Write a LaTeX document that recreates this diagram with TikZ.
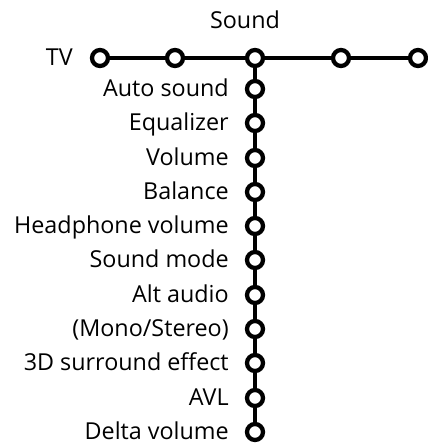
\documentclass[tikz,border=0pt]{standalone}
\usepackage{fontspec}
\setmainfont{Open Sans}
\usetikzlibrary{positioning}

\begin{document}
\begin{tikzpicture}[
    x=0.75pt, y=-0.75pt,
    dot/.style={draw, circle, line width=3.2pt, fill=white, minimum size=12pt, inner sep=0pt},
    ln/.style={line width=3pt},
    itm/.style={anchor=base east, font=\fontsize{17.5}{20}\selectfont, inner sep=0pt},
    ttl/.style={anchor=base, font=\fontsize{17.5}{20}\selectfont, inner sep=0pt}
]
\useasboundingbox (0,0) rectangle (428,443);
% top row
\node[dot] (tv) at (100,58) {};
\node[dot] (m2) at (175,58) {};
\node[dot] (snd) at (255,58) {};
\node[dot] (m4) at (341,58) {};
\node[dot] (m5) at (418,58) {};
\node[itm] (tvl) at (73,65) {TV};
\node[ttl] (sndl) at (245,28) {Sound};
% sound menu
\node[dot] (a1) at (255,89) {};
\node[dot] (a2) at (255,123) {};
\node[dot] (a3) at (255,158) {};
\node[dot] (a4) at (255,192) {};
\node[dot] (a5) at (255,226) {};
\node[dot] (a6) at (255,260) {};
\node[dot] (a7) at (255,295) {};
\node[dot] (a8) at (255,329) {};
\node[dot] (a9) at (255,363) {};
\node[dot] (a10) at (255,398) {};
\node[dot] (a11) at (255,432) {};
\node[itm] (l1) at (229,96) {Auto sound};
\node[itm] (l2) at (229,130) {Equalizer};
\node[itm] (l3) at (229,165) {Volume};
\node[itm] (l4) at (229,199) {Balance};
\node[itm] (l5) at (229,233) {Headphone volume};
\node[itm] (l6) at (229,267) {Sound mode};
\node[itm] (l7) at (229,302) {Alt audio};
\node[itm] (l8) at (229,336) {(Mono/Stereo)};
\node[itm] (l9) at (229,370) {3D surround effect};
\node[itm] (l10) at (229,405) {AVL};
\node[itm] (l11) at (229,439) {Delta volume};

\draw[ln] (tv) -- (m2) -- (snd) -- (m4) -- (m5);
\draw[ln] (snd) -- (a1) -- (a2) -- (a3) -- (a4) -- (a5) -- (a6)
    -- (a7) -- (a8) -- (a9) -- (a10) -- (a11);
\end{tikzpicture}
\end{document}
